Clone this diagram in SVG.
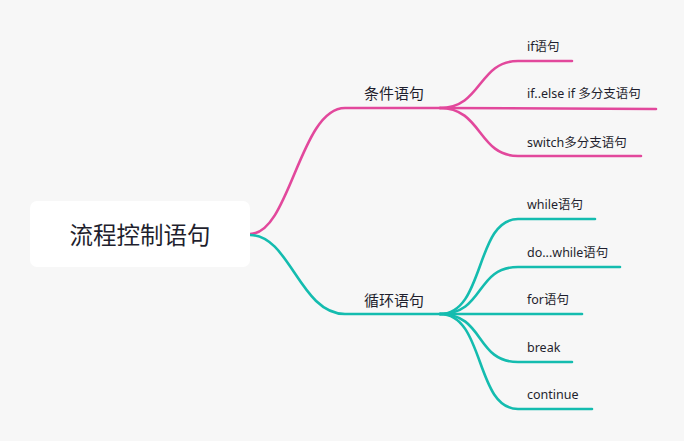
<svg xmlns="http://www.w3.org/2000/svg" width="684" height="441" viewBox="0 0 684 441">
<style>
.t{font-family:"Noto Sans","Noto Sans CJK SC",sans-serif;fill:#1f1f2e}
.leaf{font-size:12.5px}
.mid{font-size:15px}
.root{font-size:23.5px}
.pk{fill:none;stroke:#E2489C;stroke-width:2.6;stroke-linecap:round}
.tl{fill:none;stroke:#14BCAF;stroke-width:2.6;stroke-linecap:round}
</style>
<rect width="684" height="441" fill="#F7F7F7"/>
<g id="connectors">
<path class="pk" d="M250 234 C290 234 300 108 345 108 L440 108"/>
<path class="tl" d="M250 235 C290 235 300 314 345 314 L440 314"/>
<path class="pk" d="M440 108 C482 108 478 61 518 61 L572 61"/>
<path class="pk" d="M440 108 L656 109"/>
<path class="pk" d="M440 108 C482 108 478 156 518 156 L641 156"/>
<path class="tl" d="M440 314 C485 314 475 219 518 219 L595 219"/>
<path class="tl" d="M440 314 C485 314 475 267 518 267 L620 267"/>
<path class="tl" d="M440 314 L582 314"/>
<path class="tl" d="M440 314 C485 314 475 362 518 362 L572 362"/>
<path class="tl" d="M440 314 C485 314 475 409 518 409 L592 409"/>
</g>
<g id="root">
<rect x="30" y="201" width="220" height="66" rx="7" fill="#FFFFFF"/>
<text class="t root" x="140" y="244" text-anchor="middle">流程控制语句</text>
</g>
<g id="n-cond"><text class="t mid" x="364" y="99">条件语句</text></g>
<g id="n-loop"><text class="t mid" x="364" y="306">循环语句</text></g>
<g id="n-if"><text class="t leaf" x="527" y="51">if语句</text></g>
<g id="n-ifelse"><text class="t leaf" x="527" y="98">if..else if 多分支语句</text></g>
<g id="n-switch"><text class="t leaf" x="527" y="147">switch多分支语句</text></g>
<g id="n-while"><text class="t leaf" x="527" y="209">while语句</text></g>
<g id="n-dowhile"><text class="t leaf" x="527" y="257">do...while语句</text></g>
<g id="n-for"><text class="t leaf" x="527" y="304">for语句</text></g>
<g id="n-break"><text class="t leaf" x="527" y="352">break</text></g>
<g id="n-continue"><text class="t leaf" x="527" y="399">continue</text></g>
</svg>
